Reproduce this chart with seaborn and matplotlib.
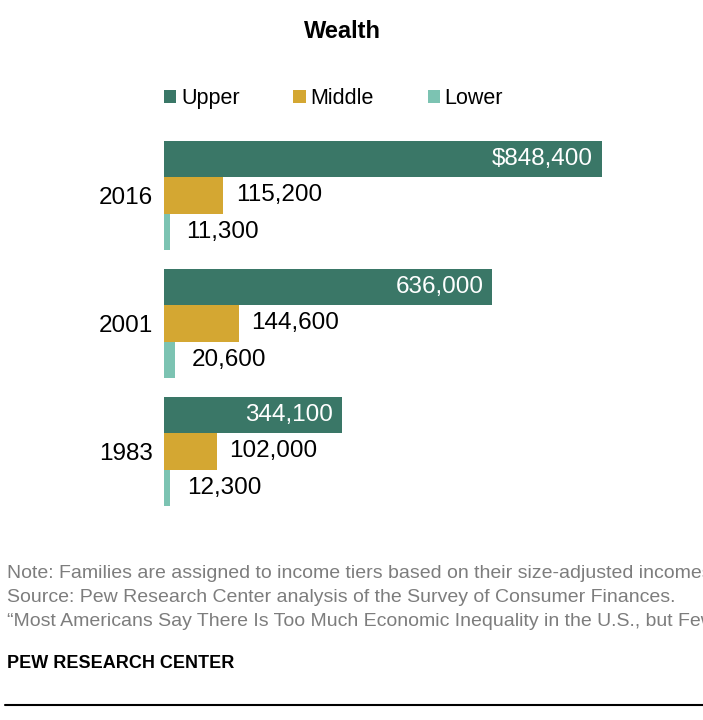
import numpy as np
import pandas as pd
import matplotlib
matplotlib.use("Agg")
import matplotlib.pyplot as plt
from matplotlib.lines import Line2D
import seaborn as sns

# data
years = ["2016", "2001", "1983"]
tiers = ["Upper", "Middle", "Lower"]
upper = [848400, 636000, 344100]
middle = [115200, 144600, 102000]
lower = [11300, 20600, 12300]
colors = ["#3a7767", "#d4a732", "#7cc3b2"]

notes = [
    "Note: Families are assigned to income tiers based on their size-adjusted incomes.",
    "Source: Pew Research Center analysis of the Survey of Consumer Finances.",
    "\u201cMost Americans Say There Is Too Much Economic Inequality in the U.S., but Fewer Than Half Call It a Top Priority\u201d",
]

df = pd.DataFrame({
    "year": years * 3,
    "tier": np.repeat(tiers, 3),
    "wealth": upper + middle + lower,
})

sns.set_style("white")
plt.rcParams["font.family"] = ["Liberation Sans", "DejaVu Sans"]
plt.rcParams["text.color"] = "black"
plt.rcParams["ytick.color"] = "black"

W, H = 703, 720
fig = plt.figure(figsize=(W / 100, H / 100), dpi=100)
ax = fig.add_axes([164 / W, 1 - 515.5 / H, 532 / W, 384 / H])

sns.barplot(data=df, y="year", x="wealth", hue="tier", order=years, hue_order=tiers,
            palette=colors, saturation=1, orient="h", width=0.855, linewidth=0,
            errorbar=None, ax=ax)
ax.set_xlim(0, 1030500)
ax.set_ylim(2.5, -0.5)

# value labels: upper inside (white), others outside
for i, cont in enumerate(ax.containers):
    for j, bar in enumerate(cont):
        v = bar.get_width()
        yc = bar.get_y() + bar.get_height() / 2
        txt = f"{v:,.0f}"
        if i == 0:
            if j == 0:
                txt = "$" + txt
            ax.annotate(txt, (v, yc), xytext=(-6.5, 0), textcoords="offset points",
                        ha="right", va="center", color="white", fontsize=17.5)
        else:
            off = 9 if i == 1 else 12
            ax.annotate(txt, (v, yc), xytext=(off, 0), textcoords="offset points",
                        ha="left", va="center", color="black", fontsize=17.5)

ax.set_xlabel("")
ax.set_ylabel("")
ax.set_xticks([])
ax.tick_params(axis="y", length=0, pad=8, labelsize=17.5, labelcolor="black")
sns.despine(ax=ax, left=True, bottom=True)

handles, labels = ax.get_legend_handles_labels()
ax.legend(handles, labels, ncol=3, frameon=False, loc="center left",
          bbox_to_anchor=(164 / W, 1 - 98.5 / H), bbox_transform=fig.transFigure,
          borderaxespad=0, borderpad=0, fontsize=15.5, handlelength=0.56,
          handleheight=0.56, handletextpad=0.23, columnspacing=2.5,
          labelcolor="black")

fig.text(342 / W, 1 - 32 / H, "Wealth", ha="center", va="center",
         fontsize=17, fontweight="bold", color="black")

for k, line in enumerate(notes):
    fig.text(7 / W, 1 - (574 + 24 * k) / H, line, ha="left", va="center",
             fontsize=14, color="#7d7d7d")
fig.text(7 / W, 1 - 664 / H, "PEW RESEARCH CENTER", ha="left", va="center",
         fontsize=13, fontweight="bold", color="black")
fig.add_artist(Line2D([5 / W, 1], [1 - 705 / H] * 2, color="black", lw=1.5))

fig.savefig("out.png", dpi=100)
